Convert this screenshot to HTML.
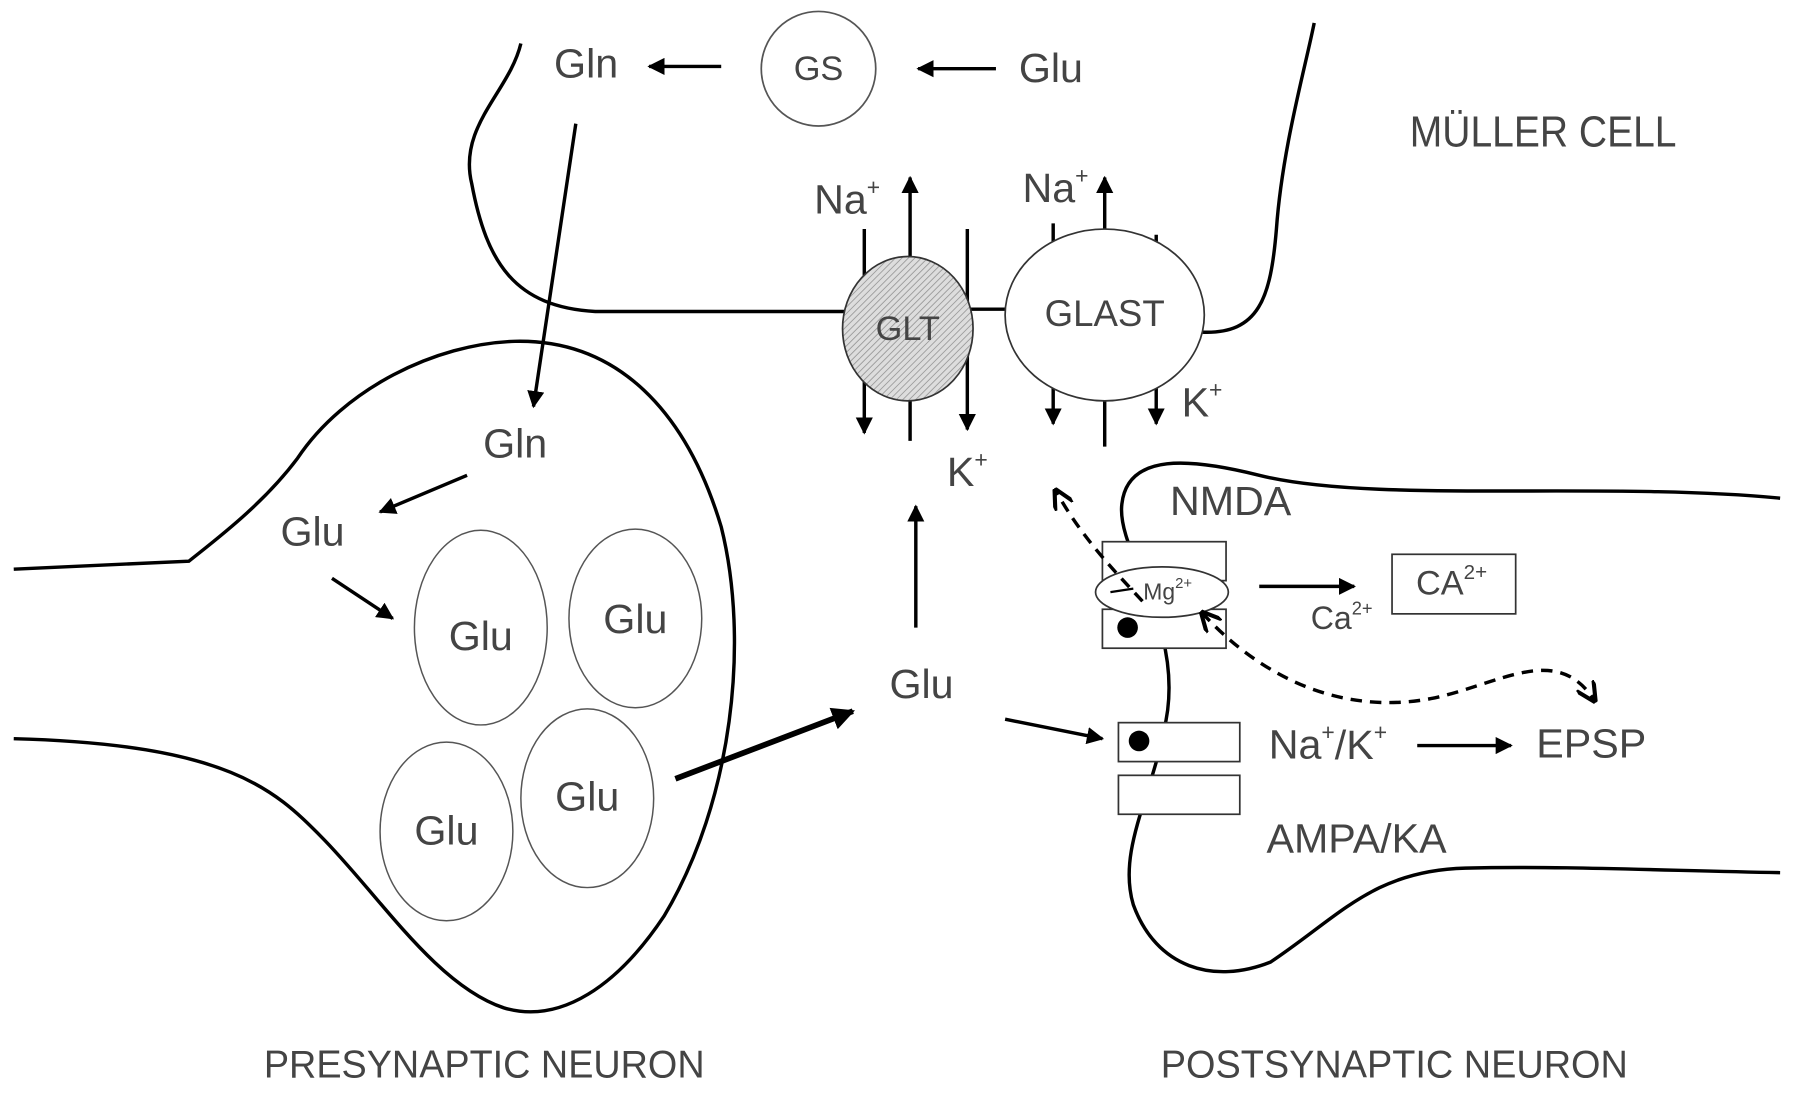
<!DOCTYPE html>
<html><head><meta charset="utf-8">
<style>
html,body{margin:0;padding:0;background:#fff;}
svg{display:block;}
text{font-family:"Liberation Sans Narrow","Liberation Sans",sans-serif;fill:#444;text-anchor:middle;dominant-baseline:middle;}
</style></head>
<body>
<svg width="1795" height="1096" viewBox="0 0 1568 957" preserveAspectRatio="none" xmlns="http://www.w3.org/2000/svg">
<defs>
<marker id="ah" viewBox="0 0 10 10" refX="9" refY="5" markerWidth="5" markerHeight="5" orient="auto-start-reverse" markerUnits="strokeWidth">
<path d="M0,0 L10,5 L0,10 z" fill="#000"/></marker>
<marker id="ah2" viewBox="0 0 10 10" refX="9" refY="5" markerWidth="4" markerHeight="4" orient="auto-start-reverse" markerUnits="strokeWidth">
<path d="M0,0 L10,5 L0,10 z" fill="#000"/></marker>
<marker id="open" viewBox="0 0 10 10" refX="9" refY="5" markerWidth="6" markerHeight="6" orient="auto-start-reverse" markerUnits="strokeWidth">
<path d="M0,0 L10,5 L0,10" fill="none" stroke="#000" stroke-width="2"/></marker>
<pattern id="hatch" width="4" height="4" patternUnits="userSpaceOnUse" patternTransform="rotate(45)">
<rect width="4" height="4" fill="#ddd"/><line x1="0" y1="0" x2="0" y2="4" stroke="#999" stroke-width="1.5"/></pattern>
</defs>
<g fill="none" stroke="#000" stroke-width="3">
<path d="M455,38 C445,80 400,110 412,160 C425,230 450,268 520,272 L740,272"/>
<line x1="845" y1="270" x2="880" y2="270"/>
<path d="M1050,290 C1100,292 1110,260 1115,200 C1120,130 1140,60 1148,20"/>
<path d="M12,497 L165,490 C190,470 230,440 260,400 C300,340 380,300 450,298 C540,296 600,360 630,460 C655,560 640,700 580,800 C540,860 490,895 440,880 C380,860 330,780 280,730 C240,690 200,650 12,645"/>
<path d="M1555,435 C1400,420 1200,440 1100,415 C1040,400 985,395 980,440 C975,480 1030,540 1020,620 C1010,690 975,740 990,790 C1010,845 1060,860 1110,840 C1170,800 1200,760 1280,758 C1360,756 1450,760 1555,762"/>
</g>
<circle cx="715" cy="60" r="50" fill="#fff" stroke="#555" stroke-width="1.5"/>
<g stroke="#000" stroke-width="3" fill="none">
<line x1="755" y1="200" x2="755" y2="378" marker-end="url(#ah)"/>
<line x1="795" y1="385" x2="795" y2="155" marker-end="url(#ah)"/>
<line x1="845" y1="200" x2="845" y2="375" marker-end="url(#ah)"/>
<line x1="920" y1="195" x2="920" y2="370" marker-end="url(#ah)"/>
<line x1="965" y1="390" x2="965" y2="155" marker-end="url(#ah)"/>
<line x1="1010" y1="205" x2="1010" y2="370" marker-end="url(#ah)"/>
</g>
<ellipse cx="793" cy="287" rx="57" ry="63" fill="url(#hatch)" stroke="#333" stroke-width="1.5"/>
<ellipse cx="965" cy="275" rx="87" ry="75" fill="#fff" stroke="#333" stroke-width="1.5"/>
<g fill="#fff" stroke="#555" stroke-width="1.3">
<ellipse cx="420" cy="548" rx="58" ry="85"/>
<ellipse cx="555" cy="540" rx="58" ry="78"/>
<ellipse cx="390" cy="726" rx="58" ry="78"/>
<ellipse cx="513" cy="697" rx="58" ry="78"/>
</g>
<g fill="#fff" stroke="#333" stroke-width="1.5">
<rect x="963" y="473" width="108" height="34"/>
<rect x="963" y="532" width="108" height="34"/>
<ellipse cx="1015" cy="517" rx="58" ry="22"/>
<rect x="977" y="631" width="106" height="34"/>
<rect x="977" y="677" width="106" height="34"/>
<rect x="1216" y="484" width="108" height="52"/>
</g>
<circle cx="985" cy="548" r="9" fill="#000"/>
<circle cx="995" cy="647" r="9" fill="#000"/>
<g stroke="#000" stroke-width="3" fill="none">
<line x1="630" y1="58" x2="567" y2="58" marker-end="url(#ah)"/>
<line x1="870" y1="60" x2="802" y2="60" marker-end="url(#ah)"/>
<line x1="503" y1="108" x2="466" y2="355" marker-end="url(#ah)"/>
<line x1="408" y1="415" x2="332" y2="447" marker-end="url(#ah)"/>
<line x1="290" y1="505" x2="343" y2="540" marker-end="url(#ah)"/>
<line x1="590" y1="680" x2="745" y2="621" stroke-width="5" marker-end="url(#ah2)"/>
<line x1="800" y1="548" x2="800" y2="442" marker-end="url(#ah)"/>
<line x1="878" y1="628" x2="963" y2="645" marker-end="url(#ah)"/>
<line x1="1100" y1="512" x2="1183" y2="512" marker-end="url(#ah)"/>
<line x1="1238" y1="651" x2="1320" y2="651" marker-end="url(#ah)"/>
<line x1="990" y1="514" x2="970" y2="517" stroke-width="2"/>
<path d="M998,525 C975,500 945,470 922,428" stroke-dasharray="10,7" marker-end="url(#open)"/>
<path d="M1050,535 C1100,590 1170,625 1250,610 C1310,598 1360,560 1393,612" stroke-dasharray="10,7" marker-start="url(#open)" marker-end="url(#open)"/>
</g>
<g font-size="36">
<text x="512" y="58">Gln</text>
<text x="715" y="62" font-size="30">GS</text>
<text x="918" y="62">Glu</text>
<text x="1348" y="118" font-size="38" fill="#555" textLength="233" lengthAdjust="spacingAndGlyphs">MÜLLER CELL</text>
<text x="740" y="177">Na<tspan font-size="20" dy="-12">+</tspan></text>
<text x="922" y="167">Na<tspan font-size="20" dy="-12">+</tspan></text>
<text x="793" y="289" font-size="30" fill="#222">GLT</text>
<text x="965" y="276" font-size="32" fill="#222">GLAST</text>
<text x="1050" y="354">K<tspan font-size="20" dy="-12">+</tspan></text>
<text x="845" y="415">K<tspan font-size="20" dy="-12">+</tspan></text>
<text x="1075" y="440">NMDA</text>
<text x="1020" y="518" font-size="20">Mg<tspan font-size="13" dy="-8">2+</tspan></text>
<text x="1172" y="542" font-size="28">Ca<tspan font-size="16" dy="-10">2+</tspan></text>
<text x="1268" y="511" font-size="30">CA<tspan font-size="18" dy="-10">2+</tspan></text>
<text x="450" y="390">Gln</text>
<text x="273" y="467">Glu</text>
<text x="420" y="558">Glu</text>
<text x="555" y="543">Glu</text>
<text x="390" y="728">Glu</text>
<text x="513" y="698">Glu</text>
<text x="805" y="600">Glu</text>
<text x="1160" y="653">Na<tspan font-size="20" dy="-12">+</tspan><tspan dy="12">/K</tspan><tspan font-size="20" dy="-12">+</tspan></text>
<text x="1390" y="652">EPSP</text>
<text x="1185" y="735">AMPA/KA</text>
<text x="423" y="932" font-size="34" fill="#555" textLength="385" lengthAdjust="spacingAndGlyphs">PRESYNAPTIC NEURON</text>
<text x="1218" y="932" font-size="34" fill="#555" textLength="408" lengthAdjust="spacingAndGlyphs">POSTSYNAPTIC NEURON</text>
</g>
</svg>
</body></html>
